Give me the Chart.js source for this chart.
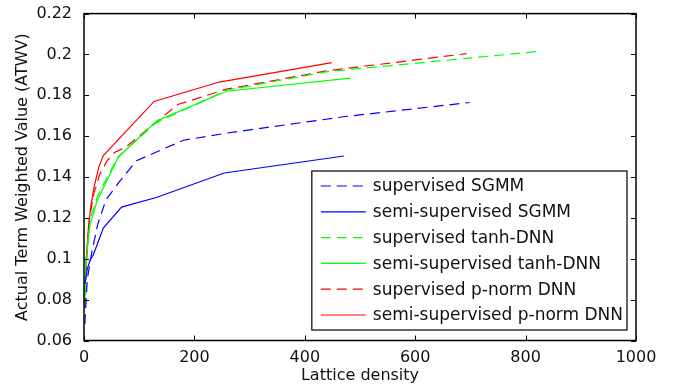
<!DOCTYPE html>
<html>
<head>
<meta charset="utf-8">
<script src="https://cdn.jsdelivr.net/npm/chart.js@4/dist/chart.umd.min.js"></script>
<style>
  body { margin: 0; background: #fff; }
</style>
</head>
<body>
<canvas id="grafico" width="675" height="385"></canvas>
<script>
// eixos
const xTicks = [0, 200, 400, 600, 800, 1000];
const yTicks = [0.06, 0.08, 0.1, 0.12, 0.14, 0.16, 0.18, 0.2, 0.22];

// supervised SGMM (azul tracejado)
const supSgmmX = [1.5, 6, 14, 25, 40, 65, 95, 180, 258, 470, 699];
const supSgmmY = [0.068, 0.090, 0.103, 0.117, 0.129, 0.138, 0.148, 0.158, 0.1615, 0.1695, 0.1765];

// semi-supervised SGMM (azul)
const semiSgmmX = [2, 6, 11, 17, 35, 68, 131, 254, 471];
const semiSgmmY = [0.088, 0.095, 0.0993, 0.102, 0.115, 0.1253, 0.130, 0.142, 0.1503];

// supervised tanh-DNN (verde tracejado)
const supTanhX = [2, 5, 12, 25, 62, 130, 258, 441, 821];
const supTanhY = [0.082, 0.104, 0.120, 0.131, 0.150, 0.1665, 0.1825, 0.1916, 0.2014];

// semi-supervised tanh-DNN (verde)
const semiTanhX = [1.5, 4, 11, 24, 62, 132, 258, 483];
const semiTanhY = [0.078, 0.100, 0.117, 0.1285, 0.1497, 0.1675, 0.182, 0.1884];

// supervised p-norm DNN (vermelho tracejado)
const supPnormX = [1.5, 5, 10, 18, 28, 42, 55, 75, 170, 258, 440, 693];
const supPnormY = [0.076, 0.100, 0.120, 0.132, 0.141, 0.148, 0.152, 0.1545, 0.1755, 0.183, 0.192, 0.2004];

// semi-supervised p-norm DNN (vermelho)
const semiPnormX = [2, 4, 8, 12, 18, 27, 35, 127, 245, 449];
const semiPnormY = [0.085, 0.100, 0.115, 0.125, 0.135, 0.145, 0.1505, 0.177, 0.1865, 0.196];

function pontos(xs, ys) {
    return xs.map(function (x, i) { return { x: x, y: ys[i] }; });
}

function serie(label, xs, ys, cor, tracejado) {
    return {
        label: label,
        data: pontos(xs, ys),
        borderColor: cor,
        backgroundColor: cor,
        borderWidth: 1.2,
        borderDash: tracejado ? [10, 6] : [],
        pointRadius: 0,
        showLine: true,
        tension: 0
    };
}

// ticks para dentro + moldura (estilo matlab)
const molduraPlugin = {
    id: 'moldura',
    afterDatasetsDraw: function (chart) {
        const ctx = chart.ctx;
        const a = chart.chartArea;
        const sx = chart.scales.x, sy = chart.scales.y;
        const tam = 5;
        ctx.save();
        ctx.strokeStyle = '#000';
        ctx.lineWidth = 1;
        ctx.beginPath();
        xTicks.forEach(function (v) {
            const px = Math.round(sx.getPixelForValue(v)) + 0.5;
            ctx.moveTo(px, a.bottom); ctx.lineTo(px, a.bottom - tam);
            ctx.moveTo(px, a.top); ctx.lineTo(px, a.top + tam);
        });
        yTicks.forEach(function (v) {
            const py = Math.round(sy.getPixelForValue(v)) + 0.5;
            ctx.moveTo(a.left, py); ctx.lineTo(a.left + tam, py);
            ctx.moveTo(a.right, py); ctx.lineTo(a.right - tam, py);
        });
        ctx.stroke();
        ctx.lineWidth = 1.5;
        ctx.strokeRect(a.left, a.top, a.right - a.left, a.bottom - a.top);
        ctx.restore();
    }
};

// legenda dentro do grafico com caixa
const legendaPlugin = {
    id: 'legendaCaixa',
    afterDraw: function (chart) {
        const ctx = chart.ctx;
        const a = chart.chartArea;
        const ds = chart.data.datasets;
        ctx.save();
        ctx.font = '17px "DejaVu Sans"';
        let maxW = 0;
        ds.forEach(function (d) { maxW = Math.max(maxW, ctx.measureText(d.label).width); });
        const passo = 25.8;
        const w = 61 + maxW + 4;
        const h = 30 + passo * (ds.length - 1);
        const x0 = a.right - 9 - w;
        const y0 = a.bottom - 10.5 - h;
        ctx.fillStyle = '#fff';
        ctx.fillRect(x0, y0, w, h);
        ctx.strokeStyle = '#000';
        ctx.lineWidth = 1.2;
        ctx.strokeRect(x0, y0, w, h);
        ds.forEach(function (d, i) {
            const y = y0 + 15 + i * passo;
            ctx.beginPath();
            ctx.strokeStyle = d.borderColor;
            ctx.lineWidth = d.borderWidth;
            ctx.setLineDash(d.borderDash);
            ctx.moveTo(x0 + 9, y);
            ctx.lineTo(x0 + 54, y);
            ctx.stroke();
            ctx.setLineDash([]);
            ctx.fillStyle = '#111';
            ctx.textAlign = 'left';
            ctx.textBaseline = 'middle';
            ctx.fillText(d.label, x0 + 61, y + 1);
        });
        ctx.restore();
    }
};

Chart.defaults.font.family = '"DejaVu Sans", sans-serif';
Chart.defaults.color = '#111';

const ctxGrafico = document.getElementById('grafico').getContext('2d');
const grafico = new Chart(ctxGrafico, {
    type: 'scatter',
    data: {
        datasets: [
            serie('supervised SGMM', supSgmmX, supSgmmY, '#0000ff', true),
            serie('semi-supervised SGMM', semiSgmmX, semiSgmmY, '#0000ff', false),
            serie('supervised tanh-DNN', supTanhX, supTanhY, '#00ff00', true),
            serie('semi-supervised tanh-DNN', semiTanhX, semiTanhY, '#00ff00', false),
            serie('supervised p-norm DNN', supPnormX, supPnormY, '#ff0000', true),
            serie('semi-supervised p-norm DNN', semiPnormX, semiPnormY, '#ff0000', false)
        ]
    },
    options: {
        responsive: false,
        animation: false,
        layout: { padding: { top: 12, right: 39, left: 0, bottom: 0 } },
        plugins: {
            legend: { display: false },
            tooltip: { enabled: false }
        },
        scales: {
            x: {
                type: 'linear',
                min: 0,
                max: 1000,
                grid: { display: false },
                border: { display: false },
                afterBuildTicks: function (s) { s.ticks = xTicks.map(function (v) { return { value: v }; }); },
                afterFit: function (s) { s.height = 44.5; },
                ticks: {
                    padding: 0,
                    font: { size: 16 },
                    maxRotation: 0,
                    callback: function (v) { return String(v); }
                },
                title: { display: true, text: 'Lattice density', font: { size: 16 }, padding: 0 }
            },
            y: {
                type: 'linear',
                min: 0.06,
                max: 0.22,
                grid: { display: false },
                border: { display: false },
                afterBuildTicks: function (s) { s.ticks = yTicks.map(function (v) { return { value: v }; }); },
                afterFit: function (s) { s.width = 84; },
                ticks: {
                    padding: 4,
                    font: { size: 16 },
                    callback: function (v) { return String(+v.toFixed(2)); }
                },
                title: { display: true, text: 'Actual Term Weighted Value (ATWV)', font: { size: 16 }, padding: 13 }
            }
        }
    },
    plugins: [molduraPlugin, legendaPlugin]
});
</script>
</body>
</html>
